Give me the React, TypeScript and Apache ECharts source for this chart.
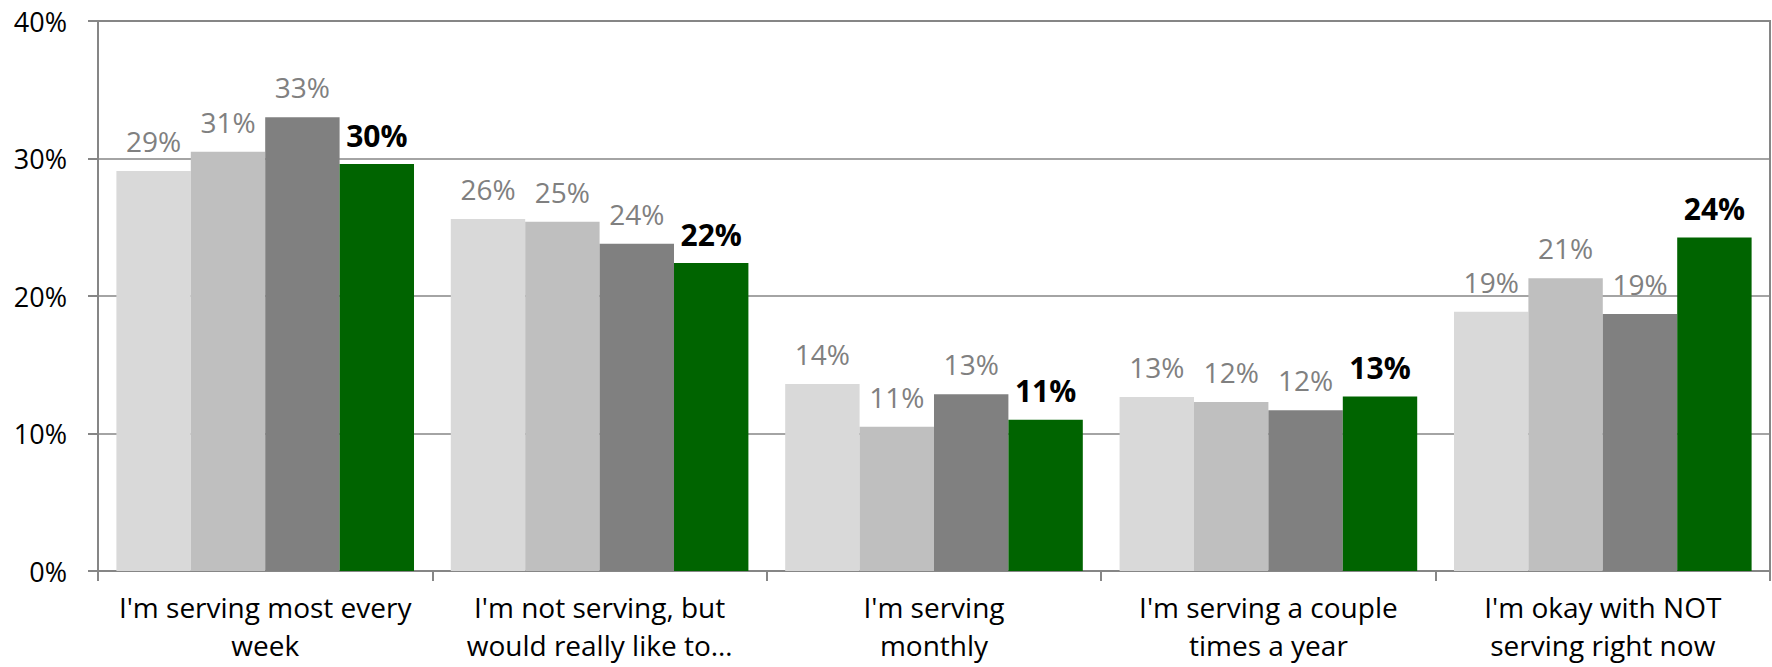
import React, { useEffect, useRef } from "react";
import * as echarts from "echarts";

const categories = [
  "I'm serving most every\nweek",
  "I'm not serving, but\nwould really like to…",
  "I'm serving\nmonthly",
  "I'm serving a couple\ntimes a year",
  "I'm okay with NOT\nserving right now",
];
const series1 = [0.291, 0.256, 0.136, 0.1265, 0.1885];
const series2 = [0.305, 0.254, 0.105, 0.123, 0.213];
const series3 = [0.33, 0.238, 0.1285, 0.117, 0.187];
const series4 = [0.296, 0.224, 0.11, 0.127, 0.2425];
const yTicks = [0, 0.1, 0.2, 0.3, 0.4];

const FONT = "Open Sans";
const GRID = "#868686";

export default function App() {
  const ref = useRef<HTMLDivElement>(null);
  useEffect(() => {
    if (!ref.current) return;
    const chart = echarts.init(ref.current, null, { renderer: "svg" });
    const pct = (v: number) => Math.round(v * 100) + "%";
    const greyLabel = {
      show: true,
      position: "top",
      distance: 16,
      color: "#808080",
      fontFamily: FONT,
      fontSize: 28,
      formatter: (p: any) => pct(p.value),
    };
    const mk = (name: string, data: number[], color: string, label: any) => ({
      name,
      type: "bar",
      data,
      barGap: "0%",
      barCategoryGap: "11%",
      itemStyle: { color },
      label,
    });
    chart.setOption({
      animation: false,
      grid: {
        left: 98,
        top: 21,
        right: 2,
        bottom: 96,
        show: true,
        borderColor: GRID,
        borderWidth: 2,
        containLabel: false,
        outerBoundsMode: "none",
      },
      xAxis: {
        type: "category",
        data: categories,
        axisLine: { show: true, lineStyle: { color: GRID, width: 2 } },
        axisTick: { show: true, length: 10, lineStyle: { color: GRID, width: 2 } },
        axisLabel: {
          color: "#000",
          fontFamily: FONT,
          fontSize: 28,
          lineHeight: 38,
          margin: 17,
          interval: 0,
        },
      },
      yAxis: {
        type: "value",
        min: yTicks[0],
        max: yTicks[yTicks.length - 1],
        interval: 0.1,
        axisLine: { show: true, lineStyle: { color: GRID, width: 2 } },
        axisTick: { show: true, length: 10, lineStyle: { color: GRID, width: 2 } },
        splitLine: { show: true, lineStyle: { color: GRID, width: 1.5 } },
        axisLabel: {
          color: "#000",
          fontFamily: FONT,
          fontSize: 27,
          margin: 31,
          formatter: (v: number) => pct(v),
        },
      },
      series: [
        mk("s1", series1, "#D9D9D9", greyLabel),
        mk("s2", series2, "#BFBFBF", greyLabel),
        mk("s3", series3, "#808080", greyLabel),
        mk("s4", series4, "#006400", {
          ...greyLabel,
          color: "#000",
          fontWeight: "bold",
          fontSize: 30,
          distance: 14,
        }),
      ],
    });
    return () => chart.dispose();
  }, []);
  return (
    <div
      ref={ref}
      style={{ position: "absolute", left: 0, top: 0, width: 1772, height: 667 }}
    />
  );
}
